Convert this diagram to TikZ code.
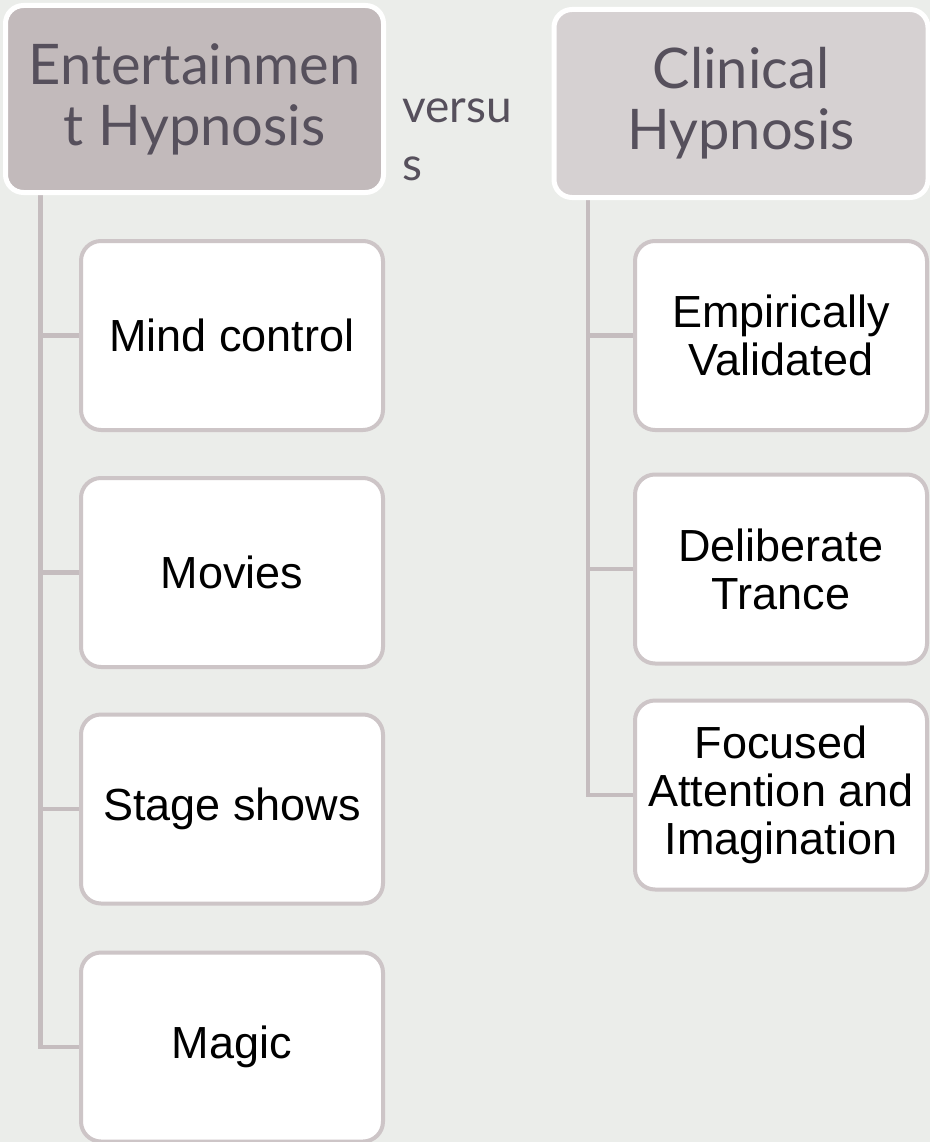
\documentclass[tikz,border=0pt]{standalone}
\usepackage{fontspec}
\newfontfamily\hdrfont{Lato}
\newfontfamily\boxfont{Liberation Sans}
\usetikzlibrary{backgrounds}
\definecolor{bgc}{HTML}{EBEDEA}
\definecolor{hdrL}{HTML}{C2BABB}
\definecolor{hdrR}{HTML}{D6D1D2}
\definecolor{linec}{HTML}{CDC5C7}
\definecolor{connc}{HTML}{C5BDBF}
\definecolor{hdrtext}{HTML}{56505C}
\tikzset{
  hdr/.style={draw=white, line width=5pt, rounded corners=18pt, align=center,
    text=hdrtext, font=\hdrfont\fontsize{56}{61}\selectfont, inner sep=0pt},
  item/.style={draw=linec, fill=white, line width=4pt, rounded corners=20pt, align=center,
    text=black, font=\boxfont\fontsize{45}{48}\selectfont, inner sep=0pt},
  conn/.style={draw=connc, line width=4.5pt},
  vs/.style={text=hdrtext, font=\hdrfont\fontsize{46}{57}\selectfont, align=left, inner sep=0pt}
}
\begin{document}
\begin{tikzpicture}[x=1pt,y=-1pt]
\useasboundingbox (0,0) rectangle (930,1142);
% headers
\node[hdr, fill=hdrL, minimum width=378pt, minimum height=187pt] (lh) at (194.5,99) {Entertainmen\\t Hypnosis};
\node[hdr, fill=hdrR, minimum width=374pt, minimum height=188pt] (rh) at (741,103.5) {Clinical\\Hypnosis};
\node[vs, anchor=base west] (vs) at (402,180) {versu\\s};
% left items
\node[item, minimum width=302pt, minimum height=189pt] (l1) at (232,335.5) {Mind control};
\node[item, minimum width=302pt, minimum height=189pt] (l2) at (232,572.5) {Movies};
\node[item, minimum width=302pt, minimum height=189pt] (l3) at (232,809) {Stage shows};
\node[item, minimum width=302pt, minimum height=189pt] (l4) at (232,1047) {Magic};
% right items
\node[item, minimum width=292pt, minimum height=189pt] (r1) at (781,335.5) {Empirically\\Validated};
\node[item, minimum width=292pt, minimum height=189pt] (r2) at (781,569) {Deliberate\\Trance};
\node[item, minimum width=292pt, minimum height=189pt] (r3) at (781,795) {Focused\\Attention and\\Imagination};
\begin{scope}[on background layer]
\fill[bgc] (0,0) rectangle (930,1142);
\coordinate (lt) at ([xshift=37.5pt]lh.south west);
\coordinate (rt) at ([xshift=36.5pt]rh.south west);
\foreach \n in {l1,l2,l3,l4} \draw[conn] (lt) |- (\n.west);
\foreach \n in {r1,r2,r3} \draw[conn] (rt) |- (\n.west);
\end{scope}
\end{tikzpicture}
\end{document}
